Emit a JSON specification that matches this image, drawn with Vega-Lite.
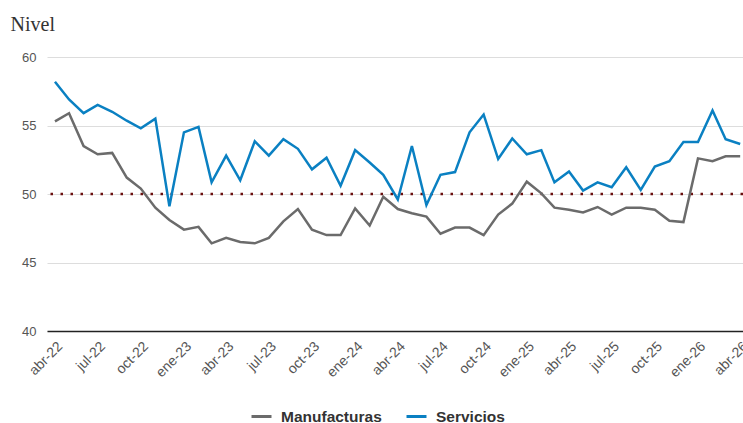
{
  "$schema": "https://vega.github.io/schema/vega-lite/v6.json",
  "width": 696,
  "height": 274,
  "autosize": {"type": "none"},
  "padding": {"left": 47, "top": 57, "right": 0, "bottom": 92},
  "background": "white",
  "config": {"view": {"stroke": null}, "font": "Liberation Sans"},
  "layer": [
    {
      "data": {"values": [{"umbral": 50}]},
      "mark": {"type": "rule", "color": "#6b1010", "strokeWidth": 2.5, "strokeDash": [2.5, 7.5]},
      "encoding": {"y": {"field": "umbral", "type": "quantitative", "scale": {"domain": [40, 60]}}}
    },
    {
      "data": {"values": [
        {"fecha": "2022-04-01", "Manufacturas": 55.3, "Servicios": 58.2},
        {"fecha": "2022-05-01", "Manufacturas": 55.9, "Servicios": 56.9},
        {"fecha": "2022-06-01", "Manufacturas": 53.5, "Servicios": 55.9},
        {"fecha": "2022-07-01", "Manufacturas": 52.9, "Servicios": 56.5},
        {"fecha": "2022-08-01", "Manufacturas": 53.0, "Servicios": 56.0},
        {"fecha": "2022-09-01", "Manufacturas": 51.2, "Servicios": 55.35},
        {"fecha": "2022-10-01", "Manufacturas": 50.4, "Servicios": 54.8},
        {"fecha": "2022-11-01", "Manufacturas": 49.0, "Servicios": 55.5},
        {"fecha": "2022-12-01", "Manufacturas": 48.1, "Servicios": 49.1},
        {"fecha": "2023-01-01", "Manufacturas": 47.4, "Servicios": 54.5},
        {"fecha": "2023-02-01", "Manufacturas": 47.6, "Servicios": 54.9},
        {"fecha": "2023-03-01", "Manufacturas": 46.4, "Servicios": 50.85},
        {"fecha": "2023-04-01", "Manufacturas": 46.8, "Servicios": 52.8},
        {"fecha": "2023-05-01", "Manufacturas": 46.5, "Servicios": 51.0},
        {"fecha": "2023-06-01", "Manufacturas": 46.4, "Servicios": 53.85},
        {"fecha": "2023-07-01", "Manufacturas": 46.8, "Servicios": 52.8},
        {"fecha": "2023-08-01", "Manufacturas": 48.0, "Servicios": 54.0},
        {"fecha": "2023-09-01", "Manufacturas": 48.9, "Servicios": 53.3},
        {"fecha": "2023-10-01", "Manufacturas": 47.4, "Servicios": 51.8},
        {"fecha": "2023-11-01", "Manufacturas": 47.0, "Servicios": 52.65},
        {"fecha": "2023-12-01", "Manufacturas": 47.0, "Servicios": 50.6},
        {"fecha": "2024-01-01", "Manufacturas": 48.95, "Servicios": 53.2},
        {"fecha": "2024-02-01", "Manufacturas": 47.7, "Servicios": 52.3},
        {"fecha": "2024-03-01", "Manufacturas": 49.8, "Servicios": 51.4},
        {"fecha": "2024-04-01", "Manufacturas": 48.9, "Servicios": 49.6},
        {"fecha": "2024-05-01", "Manufacturas": 48.6, "Servicios": 53.5},
        {"fecha": "2024-06-01", "Manufacturas": 48.35, "Servicios": 49.2},
        {"fecha": "2024-07-01", "Manufacturas": 47.1, "Servicios": 51.4},
        {"fecha": "2024-08-01", "Manufacturas": 47.55, "Servicios": 51.6},
        {"fecha": "2024-09-01", "Manufacturas": 47.55, "Servicios": 54.5},
        {"fecha": "2024-10-01", "Manufacturas": 47.0, "Servicios": 55.8},
        {"fecha": "2024-11-01", "Manufacturas": 48.5, "Servicios": 52.55},
        {"fecha": "2024-12-01", "Manufacturas": 49.3, "Servicios": 54.05},
        {"fecha": "2025-01-01", "Manufacturas": 50.9, "Servicios": 52.9},
        {"fecha": "2025-02-01", "Manufacturas": 50.05, "Servicios": 53.2},
        {"fecha": "2025-03-01", "Manufacturas": 49.0, "Servicios": 50.85},
        {"fecha": "2025-04-01", "Manufacturas": 48.85, "Servicios": 51.65},
        {"fecha": "2025-05-01", "Manufacturas": 48.65, "Servicios": 50.25},
        {"fecha": "2025-06-01", "Manufacturas": 49.05, "Servicios": 50.85},
        {"fecha": "2025-07-01", "Manufacturas": 48.5, "Servicios": 50.5},
        {"fecha": "2025-08-01", "Manufacturas": 49.0, "Servicios": 51.95},
        {"fecha": "2025-09-01", "Manufacturas": 49.0, "Servicios": 50.3},
        {"fecha": "2025-10-01", "Manufacturas": 48.85, "Servicios": 52.0},
        {"fecha": "2025-11-01", "Manufacturas": 48.05, "Servicios": 52.4},
        {"fecha": "2025-12-01", "Manufacturas": 47.95, "Servicios": 53.8},
        {"fecha": "2026-01-01", "Manufacturas": 52.6, "Servicios": 53.8},
        {"fecha": "2026-02-01", "Manufacturas": 52.4, "Servicios": 56.1},
        {"fecha": "2026-03-01", "Manufacturas": 52.75, "Servicios": 54.0},
        {"fecha": "2026-04-01", "Manufacturas": 52.75, "Servicios": 53.65}
      ]},
      "transform": [{"fold": ["Manufacturas", "Servicios"], "as": ["serie", "valor"]}],
      "mark": {"type": "line", "strokeWidth": 2.5},
      "encoding": {
        "x": {
          "field": "fecha", "type": "temporal",
          "scale": {"type": "utc", "domain": [
            {"year": 2022, "month": 3, "date": 15, "utc": true},
            {"year": 2026, "month": 4, "date": 7, "utc": true}
          ]},
          "axis": {
            "title": null,
            "values": [
              {"year": 2022, "month": 4, "date": 1, "utc": true},
              {"year": 2022, "month": 7, "date": 1, "utc": true},
              {"year": 2022, "month": 10, "date": 1, "utc": true},
              {"year": 2023, "month": 1, "date": 1, "utc": true},
              {"year": 2023, "month": 4, "date": 1, "utc": true},
              {"year": 2023, "month": 7, "date": 1, "utc": true},
              {"year": 2023, "month": 10, "date": 1, "utc": true},
              {"year": 2024, "month": 1, "date": 1, "utc": true},
              {"year": 2024, "month": 4, "date": 1, "utc": true},
              {"year": 2024, "month": 7, "date": 1, "utc": true},
              {"year": 2024, "month": 10, "date": 1, "utc": true},
              {"year": 2025, "month": 1, "date": 1, "utc": true},
              {"year": 2025, "month": 4, "date": 1, "utc": true},
              {"year": 2025, "month": 7, "date": 1, "utc": true},
              {"year": 2025, "month": 10, "date": 1, "utc": true},
              {"year": 2026, "month": 1, "date": 1, "utc": true},
              {"year": 2026, "month": 4, "date": 1, "utc": true}
            ],
            "labelExpr": "['ene','feb','mar','abr','may','jun','jul','ago','sep','oct','nov','dic'][utcmonth(datum.value)] + '-' + utcFormat(datum.value, '%y')",
            "labelAngle": -45,
            "labelColor": "#555555",
            "labelFontSize": 14,
            "labelPadding": 8,
            "labelDx": -7,
            "labelOverlap": false,
            "labelBound": false,
            "labelFlush": false,
            "ticks": false,
            "grid": false,
            "domainColor": "#222222",
            "domainWidth": 1.5
          }
        },
        "y": {
          "field": "valor", "type": "quantitative",
          "scale": {"domain": [40, 60]},
          "axis": {
            "values": [40, 45, 50, 55, 60],
            "domain": false,
            "ticks": false,
            "gridColor": "#dddddd",
            "gridWidth": 1,
            "labelColor": "#555555",
            "labelFontSize": 13,
            "labelPadding": 11,
            "title": "Nivel",
            "titleAngle": 0,
            "titleX": -37,
            "titleY": -27,
            "titleAlign": "left",
            "titleBaseline": "alphabetic",
            "titleFont": "Liberation Serif",
            "titleFontSize": 20,
            "titleFontWeight": "normal",
            "titleColor": "#333333"
          }
        },
        "color": {
          "field": "serie", "type": "nominal",
          "scale": {"domain": ["Manufacturas", "Servicios"], "range": ["#6b6b6b", "#0a80c2"]},
          "legend": {
            "title": null,
            "orient": "none",
            "direction": "horizontal",
            "legendX": 203,
            "legendY": 348,
            "symbolType": "stroke",
            "symbolSize": 400,
            "symbolStrokeWidth": 3,
            "labelFont": "Liberation Sans",
            "labelFontSize": 15.5,
            "labelFontWeight": "bold",
            "labelColor": "#333333",
            "labelOffset": 8,
            "columnPadding": 18
          }
        }
      }
    }
  ]
}
